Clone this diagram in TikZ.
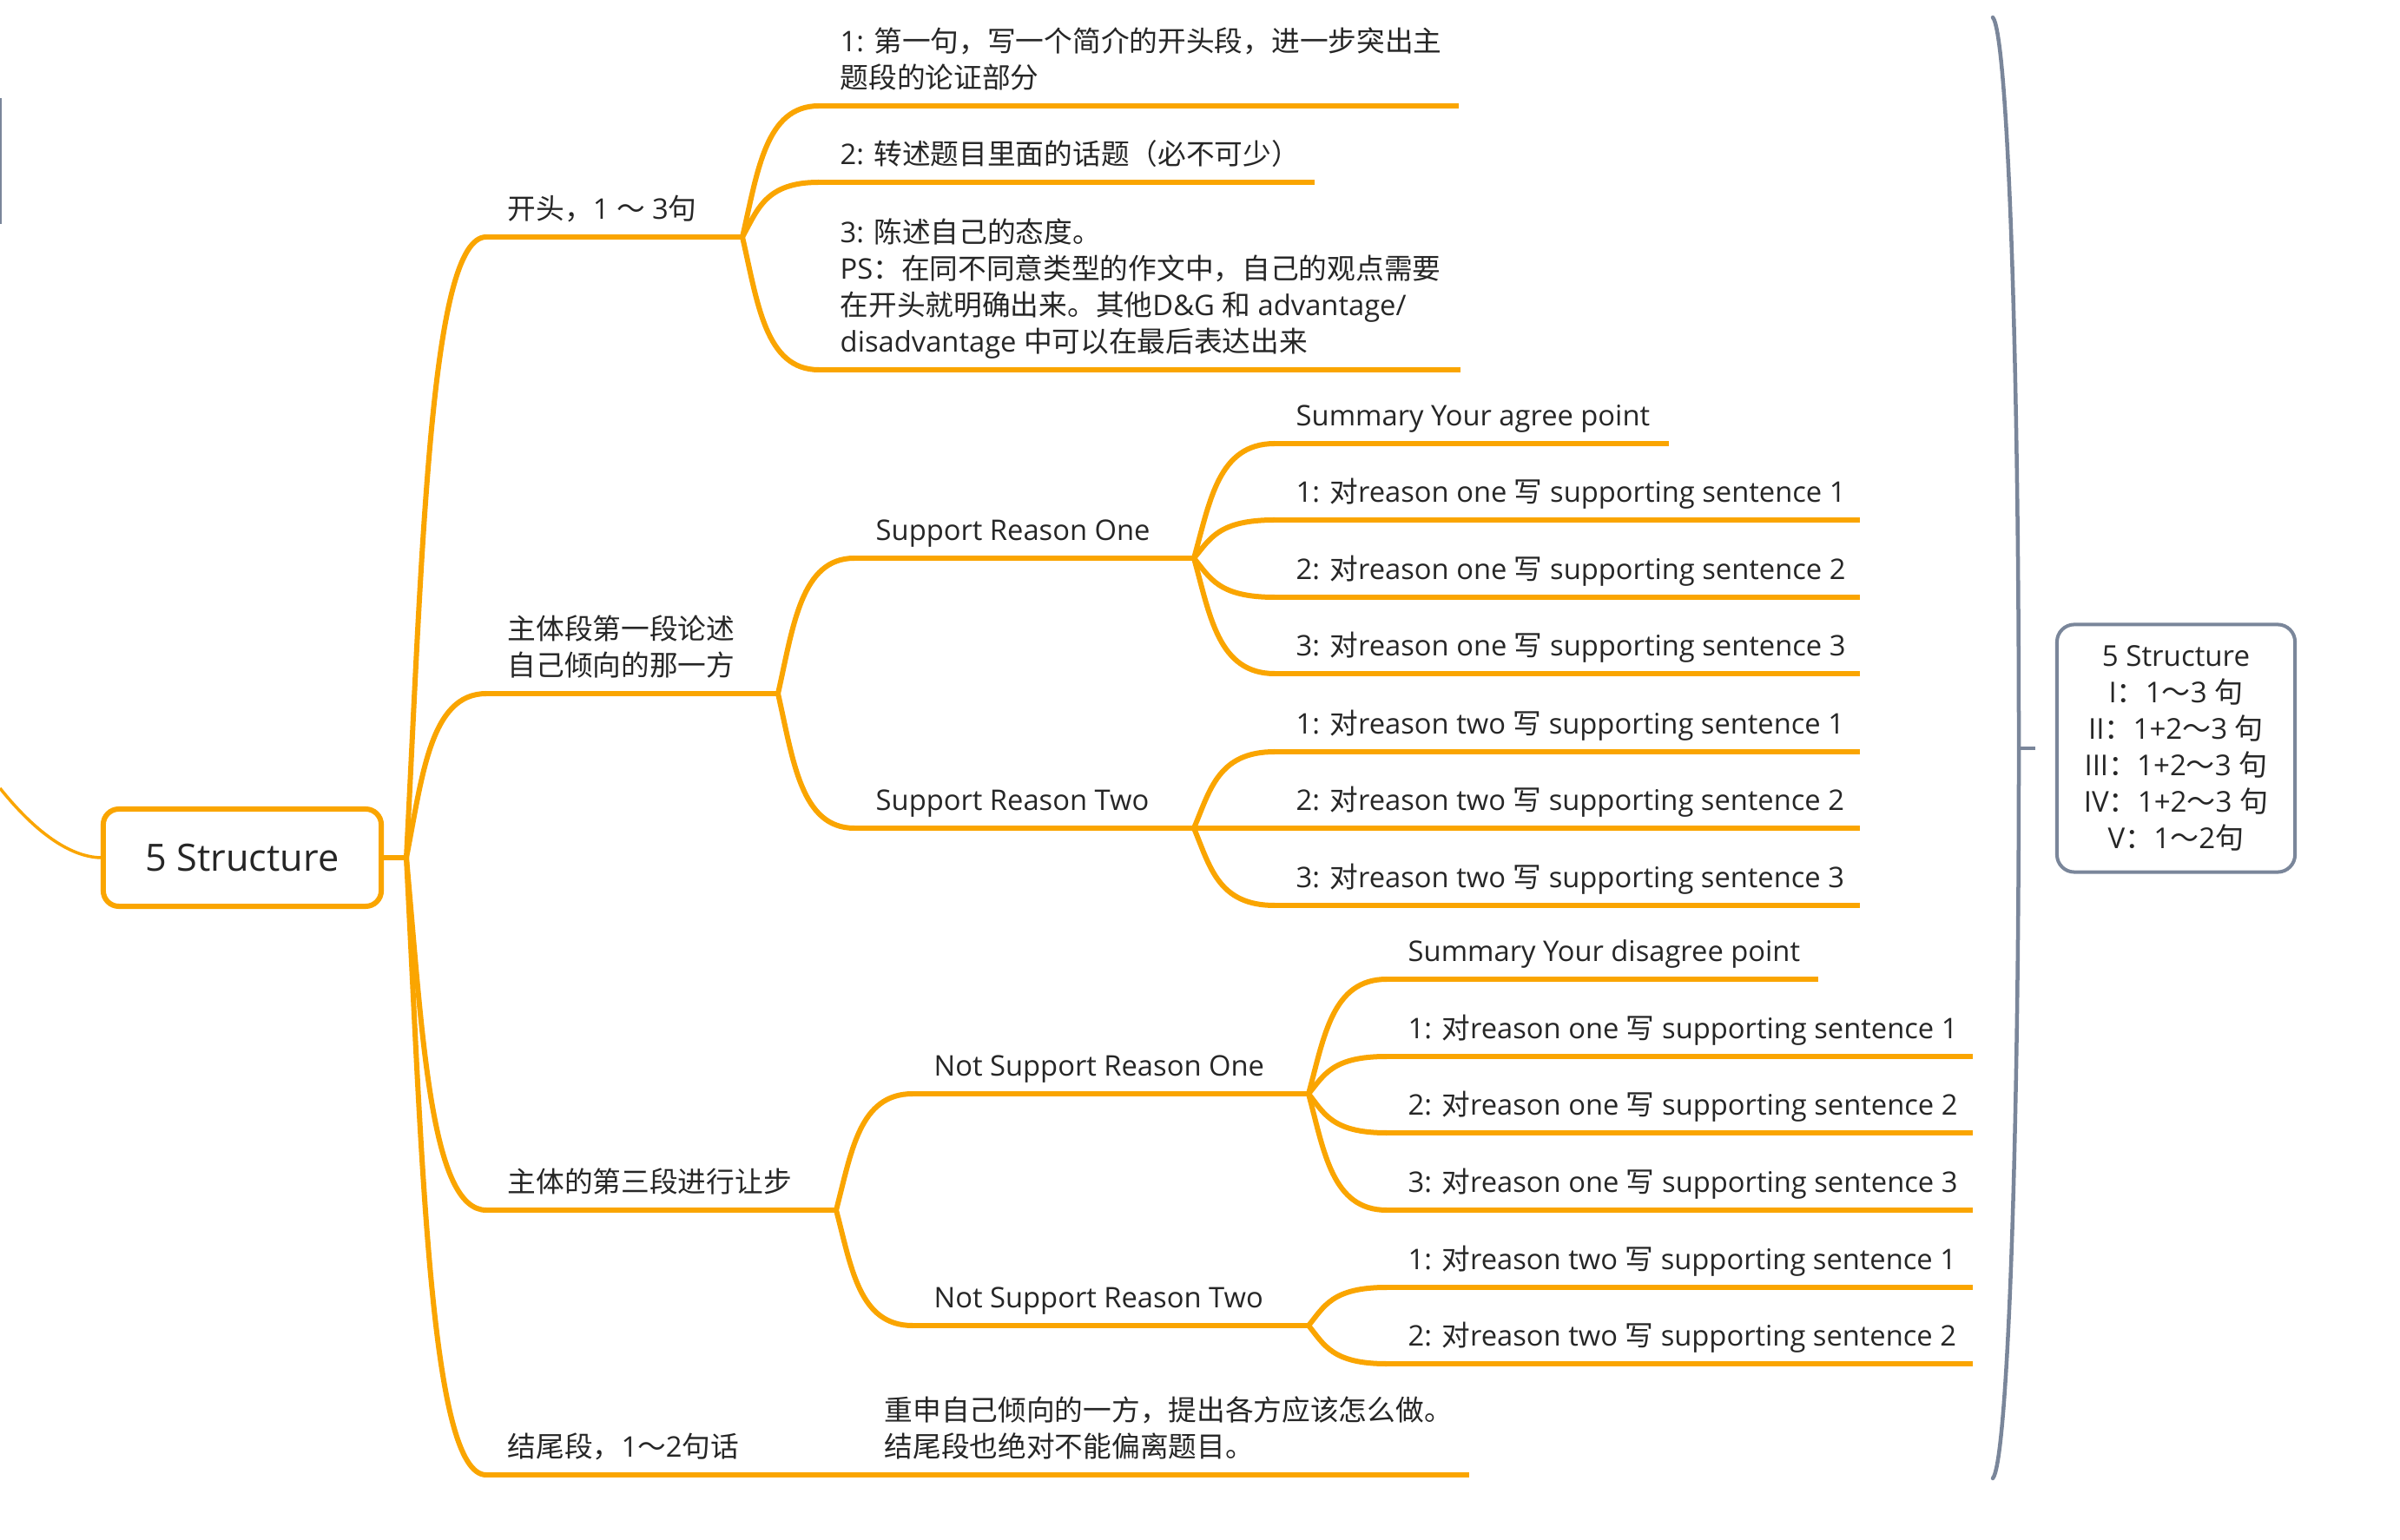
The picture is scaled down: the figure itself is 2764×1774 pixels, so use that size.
\documentclass[tikz,border=0pt]{standalone}
\usepackage{fontspec}
\setmainfont{Open Sans}
\newfontfamily\cjk{Noto Sans CJK SC}
\usetikzlibrary{calc}
\definecolor{brc}{RGB}{250,165,0}
\definecolor{smc}{RGB}{122,134,154}
\definecolor{txc}{RGB}{38,38,38}
\newcommand{\dui}{{\cjk 对}}
\newcommand{\xie}{{\cjk 写}}
\tikzset{
  brline/.style={draw=brc, line width=0.06cm},
  smline/.style={draw=smc, line width=0.045cm, line cap=round},
  curvedto/.style={to path={let \p1=(\tikztostart), \p2=(\tikztotarget) in
      .. controls ({\x1+0.2*(\x2-\x1)},{\y1+0.5*(\y2-\y1)}) and ({\x1+0.3*(\x2-\x1)},{\y2}) .. (\tikztotarget) \tikztonodes}},
  txt/.style={anchor=south west, inner sep=0pt, align=left, text=txc,
      font=\fontsize{9.3}{11.95}\selectfont, execute at end node=\strut},
}
\newcommand{\mmitem}[6]{%
  \coordinate (#1-s) at (#2,#4);
  \coordinate (#1-e) at (#3,#4);
  \node[txt] (#1) at (#5,#4-7.4) {#6};
  \draw[brline] (#1-s) -- (#1-e);}
\begin{document}
\begin{tikzpicture}[x=0.01cm,y=-0.01cm]
\useasboundingbox (0,0) rectangle (2764,1774);
\fill[white] (0,0) rectangle (2764,1774);

% off-picture hints
\coordinate (gtop) at (1,113);
\coordinate (gbot) at (1,258);
\draw[draw=smc, line width=0.02cm] (gtop) -- (gbot);
\coordinate (offL) at (0,908);

% root
\node[draw=brc, line width=0.06cm, rounded corners=0.18cm, minimum width=3.2cm,
  minimum height=1.12cm, inner sep=0pt, text=txc, font=\fontsize{12.3}{15}\selectfont]
  (root) at (279,988) {5 Structure};
\draw[draw=brc, line width=0.035cm] (offL) .. controls (40,958) and (80,987) .. (root.west);
\coordinate (hub) at (468,988);
\draw[brline] (root.east) -- (hub);

% level 1
\mmitem{L1a}{560}{855}{273}{584}{{\cjk 开头，}1 {\cjk ～} 3{\cjk 句}}
\mmitem{L1b}{560}{896}{799}{584}{{\cjk 主体段第一段论述}\\{\cjk 自己倾向的那一方}}
\mmitem{L1c}{560}{963}{1394}{584}{{\cjk 主体的第三段进行让步}}
\mmitem{L1d}{560}{870}{1699}{584}{{\cjk 结尾段，}1{\cjk ～}2{\cjk 句话}}
\foreach \c in {L1a,L1b,L1c,L1d} {\draw[brline] (hub) to[curvedto] (\c-s);}

% children of L1a
\mmitem{A1}{943}{1680}{122}{967}{1: {\cjk 第一句，写一个简介的开头段，进一步突出主}\\{\cjk 题段的论证部分}}
\mmitem{A2}{943}{1514}{210}{967}{2: {\cjk 转述题目里面的话题（必不可少）}}
\mmitem{A3}{943}{1682}{426}{967}{3: {\cjk 陈述自己的态度。}\\PS{\cjk ：在同不同意类型的作文中，自己的观点需要}\\{\cjk 在开头就明确出来。其他}D\&G {\cjk 和} advantage/\\disadvantage {\cjk 中可以在最后表达出来}}
\foreach \c in {A1,A2,A3} {\draw[brline] (L1a-e) to[curvedto] (\c-s);}

% children of L1b
\mmitem{B1}{984}{1375}{643}{1008}{Support Reason One}
\mmitem{B2}{984}{1375}{954}{1008}{Support Reason Two}
\foreach \c in {B1,B2} {\draw[brline] (L1b-e) to[curvedto] (\c-s);}

\mmitem{B1s}{1468}{1922}{511}{1492}{Summary Your agree point}
\mmitem{B11}{1468}{2142}{599}{1492}{1: \dui reason one \xie{} supporting sentence 1}
\mmitem{B12}{1468}{2142}{688}{1492}{2: \dui reason one \xie{} supporting sentence 2}
\mmitem{B13}{1468}{2142}{776}{1492}{3: \dui reason one \xie{} supporting sentence 3}
\foreach \c in {B1s,B11,B12,B13} {\draw[brline] (B1-e) to[curvedto] (\c-s);}

\mmitem{B21}{1468}{2142}{866}{1492}{1: \dui reason two \xie{} supporting sentence 1}
\mmitem{B22}{1468}{2142}{954}{1492}{2: \dui reason two \xie{} supporting sentence 2}
\mmitem{B23}{1468}{2142}{1043}{1492}{3: \dui reason two \xie{} supporting sentence 3}
\foreach \c in {B21,B22,B23} {\draw[brline] (B2-e) to[curvedto] (\c-s);}

% children of L1c
\mmitem{C1}{1051}{1507}{1260}{1075}{Not Support Reason One}
\mmitem{C2}{1051}{1507}{1527}{1075}{Not Support Reason Two}
\foreach \c in {C1,C2} {\draw[brline] (L1c-e) to[curvedto] (\c-s);}

\mmitem{C1s}{1597}{2094}{1128}{1621}{Summary Your disagree point}
\mmitem{C11}{1597}{2272}{1217}{1621}{1: \dui reason one \xie{} supporting sentence 1}
\mmitem{C12}{1597}{2272}{1305}{1621}{2: \dui reason one \xie{} supporting sentence 2}
\mmitem{C13}{1597}{2272}{1394}{1621}{3: \dui reason one \xie{} supporting sentence 3}
\foreach \c in {C1s,C11,C12,C13} {\draw[brline] (C1-e) to[curvedto] (\c-s);}

\mmitem{C21}{1597}{2272}{1483}{1621}{1: \dui reason two \xie{} supporting sentence 1}
\mmitem{C22}{1597}{2272}{1571}{1621}{2: \dui reason two \xie{} supporting sentence 2}
\foreach \c in {C21,C22} {\draw[brline] (C2-e) to[curvedto] (\c-s);}

% child of L1d
\mmitem{D1}{994}{1692}{1699}{1018}{{\cjk 重申自己倾向的一方，提出各方应该怎么做。}\\{\cjk 结尾段也绝对不能偏离题目。}}
\draw[brline] (L1d-e) -- (D1-s);

% summary bracket
\coordinate (bt) at (2295,20);
\coordinate (bm) at (2325,862);
\coordinate (bb) at (2295,1703);
\coordinate (tick) at (2344,862);
\draw[smline] (bt) .. controls (2312,40) and (2325,400) .. (bm)
  .. controls (2325,1324) and (2312,1683) .. (bb);
\draw[smline, line cap=butt] (bm) -- (tick);

\node[draw=smc, line width=0.04cm, rounded corners=0.2cm, minimum width=2.74cm,
  minimum height=2.85cm, inner sep=0pt, align=center, text=txc,
  font=\fontsize{9.4}{11.95}\selectfont] (sum) at (2506,862)
  {5 Structure\\I{\cjk ：}1{\cjk ～}3 {\cjk 句}\\II{\cjk ：}1+2{\cjk ～}3 {\cjk 句}\\III{\cjk ：}1+2{\cjk ～}3 {\cjk 句}\\IV{\cjk ：}1+2{\cjk ～}3 {\cjk 句}\\V{\cjk ：}1{\cjk ～}2{\cjk 句}};
\end{tikzpicture}
\end{document}
